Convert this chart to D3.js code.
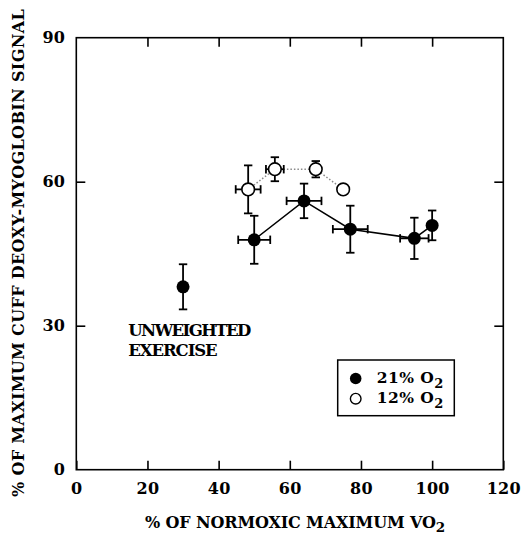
<!DOCTYPE html>
<html><head><meta charset="utf-8">
<script src="https://cdn.jsdelivr.net/npm/d3@7"></script>
<style>body{margin:0;background:#fff}</style>
</head><body><svg id="c" width="522" height="534"></svg>
<script>
const xTicks=[0,20,40,60,80,100,120];
const yTicks=[0,30,60,90];
// 21% O2 (filled)
const normX=[30,50,64,77,95,100];
const normY=[38.1,47.9,56.0,50.1,48.2,50.9];
const normXErr=[0,4.5,4.9,4.9,4.0,0];
const normYErr=[4.7,5.0,3.6,4.9,4.3,3.1];
const normConnected=[false,true,true,true,true,true];
// 12% O2 (open)
const hypoX=[48.3,55.8,67.3,75.0];
const hypoY=[58.4,62.6,62.6,58.4];
const hypoXErr=[3.5,2.5,0,0];
const hypoYErr=[5.0,2.5,1.7,0];
const legendLabels=["21% O","12% O"];
const xTitle="% OF NORMOXIC MAXIMUM VO";
const yTitle="% OF MAXIMUM CUFF DEOXY-MYOGLOBIN SIGNAL";
const annotation=["UNWEIGHTED","EXERCISE"];

const FONT="'DejaVu Serif', serif";
const svg=d3.select('#c');
const L=76.3,R=503.3,T=37.7,B=469.7;
const x=d3.scaleLinear().domain([0,120]).range([L,R]);
const y=d3.scaleLinear().domain([0,90]).range([B,T]);

function fitWidth(node,target){
  const t=d3.select(node); t.attr('letter-spacing',0);
  const w=node.getComputedTextLength();
  const n=node.getNumberOfChars();
  t.attr('letter-spacing',(target-w)/n);
}

// frame
svg.append('rect').attr('x',L).attr('y',T).attr('width',R-L).attr('height',B-T)
  .attr('fill','none').attr('stroke','#000').attr('stroke-width',1.6);

const styleAxis=g=>{g.select('.domain').remove();g.selectAll('line').attr('stroke','#000').attr('stroke-width',1.6);
  g.selectAll('text').attr('font-family',FONT).attr('font-weight','bold').attr('font-size',16).attr('letter-spacing',0.3).attr('fill','#000');};

svg.append('g').attr('transform',`translate(0,${B})`)
  .call(d3.axisBottom(x).tickValues(xTicks).tickSizeInner(-9).tickSizeOuter(0).tickPadding(13).tickFormat(d3.format('d')))
  .call(styleAxis);
svg.append('g').attr('transform',`translate(0,${T})`)
  .call(d3.axisTop(x).tickValues(xTicks.slice(1,-1)).tickSizeInner(-9).tickSizeOuter(0).tickFormat(''))
  .call(styleAxis);
svg.append('g').attr('transform',`translate(${L},0)`)
  .call(d3.axisLeft(y).tickValues(yTicks).tickSizeInner(-9).tickSizeOuter(0).tickPadding(11).tickFormat(d3.format('d')))
  .call(styleAxis)
  .selectAll('.tick line').filter(d=>d===0||d===90).remove();
svg.append('g').attr('transform',`translate(${R},0)`)
  .call(d3.axisRight(y).tickValues(yTicks.slice(1,-1)).tickSizeInner(-9).tickSizeOuter(0).tickFormat(''))
  .call(styleAxis);

// data objects
const norm=normX.map((v,i)=>({x:v,y:normY[i],ex:normXErr[i],ey:normYErr[i],c:normConnected[i]}));
const hypo=hypoX.map((v,i)=>({x:v,y:hypoY[i],ex:hypoXErr[i],ey:hypoYErr[i]}));

// lines
const line=d3.line().x(d=>x(d.x)).y(d=>y(d.y));
svg.append('path').datum(hypo).attr('d',line).attr('fill','none')
  .attr('stroke','#8a8a8a').attr('stroke-width',1.5).attr('stroke-dasharray','1.5,2');
svg.append('path').datum(norm.filter(d=>d.c)).attr('d',line).attr('fill','none')
  .attr('stroke','#000').attr('stroke-width',1.5);

// error bars
function errBars(data){
  const g=svg.append('g').attr('stroke','#000').attr('stroke-width',1.8);
  const cap=4.2;
  data.forEach(d=>{
    if(d.ey>0){
      const y1=y(d.y-d.ey),y2=y(d.y+d.ey),cx=x(d.x);
      g.append('line').attr('x1',cx).attr('x2',cx).attr('y1',y1).attr('y2',y2);
      g.append('line').attr('x1',cx-cap).attr('x2',cx+cap).attr('y1',y1).attr('y2',y1);
      g.append('line').attr('x1',cx-cap).attr('x2',cx+cap).attr('y1',y2).attr('y2',y2);
    }
    if(d.ex>0){
      const x1=x(d.x-d.ex),x2=x(d.x+d.ex),cy=y(d.y);
      g.append('line').attr('x1',x1).attr('x2',x2).attr('y1',cy).attr('y2',cy);
      g.append('line').attr('x1',x1).attr('x2',x1).attr('y1',cy-cap).attr('y2',cy+cap);
      g.append('line').attr('x1',x2).attr('x2',x2).attr('y1',cy-cap).attr('y2',cy+cap);
    }
  });
}
errBars(hypo);errBars(norm);

svg.append('g').selectAll('circle').data(hypo).join('circle')
  .attr('cx',d=>x(d.x)).attr('cy',d=>y(d.y)).attr('r',6.3)
  .attr('fill','#fff').attr('stroke','#000').attr('stroke-width',1.6);
svg.append('g').selectAll('circle').data(norm).join('circle')
  .attr('cx',d=>x(d.x)).attr('cy',d=>y(d.y)).attr('r',6.5).attr('fill','#000');

// annotation
const annW=[121.5,88.3],annY=[335.7,356];
annotation.forEach((s,i)=>{
  const t=svg.append('text').attr('x',128.3).attr('y',annY[i]).attr('font-family',FONT)
    .attr('font-weight','bold').attr('font-size',16.5).attr('fill','#000').text(s);
  fitWidth(t.node(),annW[i]);
});

// legend
svg.append('rect').attr('x',337.7).attr('y',360).attr('width',116.6).attr('height',55.7)
  .attr('fill','#fff').attr('stroke','#000').attr('stroke-width',1.5);
const legY=[378.5,398.7];
svg.append('circle').attr('cx',355.7).attr('cy',legY[0]).attr('r',5.8).attr('fill','#000');
svg.append('circle').attr('cx',355.7).attr('cy',legY[1]).attr('r',5.3).attr('fill','#fff').attr('stroke','#000').attr('stroke-width',1.4);
legendLabels.forEach((s,i)=>{
  const t=svg.append('text').attr('x',376.7).attr('y',legY[i]+4.5).attr('font-family',FONT)
    .attr('font-weight','bold').attr('font-size',15.5).attr('fill','#000');
  t.append('tspan').text(s);
  t.append('tspan').attr('dy',4.5).attr('font-size',13).text('2');
  fitWidth(t.node(),67);
});

// axis titles
{
  const t=svg.append('text').attr('x',145).attr('y',528.3).attr('font-family',FONT)
    .attr('font-weight','bold').attr('font-size',16).attr('fill','#000');
  t.append('tspan').text(xTitle);
  t.append('tspan').attr('dy',4).attr('font-size',13.5).text('2');
  fitWidth(t.node(),300);
}
{
  const t=svg.append('text').attr('transform','translate(23.5,497) rotate(-90)')
    .attr('font-family',FONT).attr('font-weight','bold').attr('font-size',16).attr('fill','#000')
    .text(yTitle);
  fitWidth(t.node(),488);
}
</script></body></html>
